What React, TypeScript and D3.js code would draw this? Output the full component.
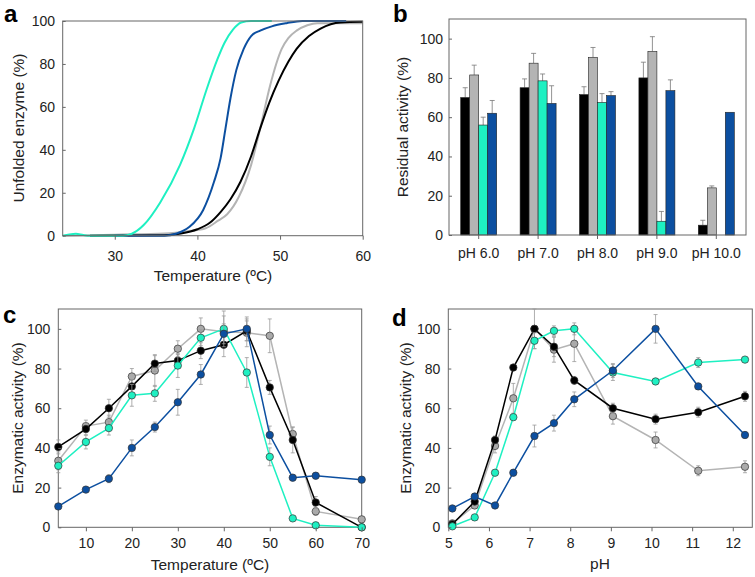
import React, { useEffect, useRef } from "react";
import * as d3 from "d3";

const FONT = "'Liberation Sans', Arial, sans-serif";
const C_BLACK = "#000000";
const C_GREY = "#b4b4b4";
const C_CYAN = "#1ef0c2";
const C_BLUE = "#0c4fa0";

// panel a - melting curves (temperature, % unfolded)
const meltGrey: [number, number][] = [[24, 0], [30, 0.5], [36, 1], [39, 2.2], [41, 3.5], [42.5, 7], [43.6, 10], [45, 18], [46.5, 33], [47.6, 50], [48.8, 70], [50.2, 87], [51, 92], [52, 95.5], [53.3, 98], [54.5, 99], [60, 99]];
const meltBlack: [number, number][] = [[27, 0], [36, 0.2], [38, 1], [40, 3], [41.5, 6], [42.8, 11], [44, 17], [45.2, 25], [46.5, 37], [47.6, 50], [48.7, 62], [49.8, 72], [51, 81], [52, 87], [53.5, 93], [54.9, 96.5], [57.3, 99.3], [60, 99.6]];
const meltCyan: [number, number][] = [[23.7, 0], [24.5, 0.6], [25.3, 0.9], [26.2, 0.3], [27, 0], [31, 0], [32, 0.8], [33.5, 5], [35.5, 15.5], [37.9, 33], [39.6, 50], [41.1, 68], [42.4, 82], [43.3, 90], [44.3, 96], [45.3, 99.3], [46.5, 100], [49, 100]];
const meltBlue: [number, number][] = [[30, 0], [36, 0], [37.5, 1], [39, 4], [40.7, 12], [42, 25], [42.8, 36], [43.4, 50], [44, 64], [44.7, 77], [45.6, 87], [46.5, 93], [47.6, 95.5], [49, 97.5], [50.8, 99], [52.7, 100], [58, 100]];

// panel b - residual activity after incubation
const phCats = ["pH 6.0", "pH 7.0", "pH 8.0", "pH 9.0", "pH 10.0"];
const resBlack = [70, 75, 71.5, 80, 5];
const resGrey = [81.5, 87.5, 90.5, 93.5, 24];
const resCyan = [56, 78.5, 67.5, 7, 0];
const resBlue = [62, 67, 71, 73.5, 62.5];
const resErrBlack = [5, 4.5, 4, 8, 2.5];
const resErrGrey = [5, 5, 5, 7.5, 1];
const resErrCyan = [4, 3.5, 4.5, 5, 0];
const resErrBlue = [6.5, 9, 2, 5.5, 0];

// panel c - activity vs temperature
const tempX = [4, 10, 15, 20, 25, 30, 35, 40, 45, 50, 55, 60, 70];
const tBlack = [40.5, 49.5, 60, 71, 82.5, 84, 89, 92, 99, 70.5, 44, 12.5, 0];
const tGrey = [33.5, 51, 53, 76, 79, 90, 100, 98.5, 98, 96.5, 47, 8, 4];
const tCyan = [31, 43, 50, 66.5, 67.5, 81.5, 95.5, 100, 78, 35.5, 4.5, 1, 0];
const tBlue = [10.5, 19, 24.5, 40, 50.5, 63, 77, 97.5, 100, 46.5, 25, 26, 24];
const tErrBlack = [3.5, 3, 4.5, 3.5, 4, 3, 4, 6, 5, 3.5, 6.5, 3, 0.5];
const tErrGrey = [4.5, 3, 3.5, 4, 8, 4, 5.5, 8, 7, 8.5, 3.5, 2, 1.5];
const tErrCyan = [3.5, 3.5, 3.5, 5.5, 4, 6, 4, 9, 7.5, 4.5, 1, 1, 0.5];
const tErrBlue = [1, 1.5, 2, 4, 2.5, 6.5, 5, 5, 6, 4.5, 1.5, 1.5, 1.5];

// panel d - activity vs pH
const phX = [5.1, 5.65, 6.15, 6.6, 7.12, 7.6, 8.1, 9.05, 10.1, 11.15, 12.3];
const pBlack = [1.5, 13, 44, 80.5, 100, 91, 74, 60, 54.5, 58, 66];
const pGrey = [2, 11, 41, 65, 100, 89.5, 92.5, 56, 44, 28.5, 30.5];
const pCyan = [0.5, 5, 27.5, 55.5, 94, 99, 100, 78, 73.5, 83, 84.5];
const pBlue = [9.5, 15.5, 11, 27.5, 46, 52.5, 64.5, 79, 100, 71, 46.5];
const pErrBlack = [1, 2, 2, 1, 1, 5, 2, 2.5, 2.5, 2.5, 2.5];
const pErrGrey = [1, 1.5, 3.5, 7.5, 10, 6.3, 9, 4, 4, 2.5, 3];
const pErrCyan = [0.5, 1, 1, 1.5, 4, 2.5, 3, 4, 1.5, 2.5, 1];
const pErrBlue = [1, 1.5, 1, 1.5, 5.5, 4, 3.7, 3.5, 7.2, 1.5, 1.5];

const yTicks = [0, 20, 40, 60, 80, 100];

function frame(g: any, x0: number, y0: number, x1: number, y1: number) {
  g.append("rect")
    .attr("x", x0).attr("y", y0)
    .attr("width", x1 - x0).attr("height", y1 - y0)
    .attr("fill", "none").attr("stroke", "#666").attr("stroke-width", 1);
}

function styleAxis(a: any) {
  a.select(".domain").remove();
  a.selectAll("text").attr("font-family", FONT).attr("font-size", 14).attr("fill", "#222");
  a.selectAll("line").attr("stroke", "#666");
}

function leftAxis(g: any, y: any, x0: number, pad: number) {
  const a = g.append("g").attr("transform", `translate(${x0},0)`)
    .call(d3.axisLeft(y).tickValues(yTicks).tickSizeInner(-3).tickSizeOuter(0).tickPadding(pad));
  styleAxis(a);
}

function bottomAxis(g: any, x: any, y0: number, ticks: any[] | null, pad: number) {
  let ax = d3.axisBottom(x).tickSizeInner(4).tickSizeOuter(0).tickPadding(pad);
  if (ticks) ax = ax.tickValues(ticks);
  const a = g.append("g").attr("transform", `translate(0,${y0})`).call(ax);
  styleAxis(a);
}

function label(g: any, txt: string, x: number, y: number, rotate = false) {
  g.append("text")
    .attr("transform", rotate ? `translate(${x},${y}) rotate(-90)` : `translate(${x},${y})`)
    .attr("text-anchor", "middle")
    .attr("font-family", FONT).attr("font-size", 15.5).attr("fill", "#222")
    .text(txt);
}

function letter(g: any, txt: string, x: number, y: number) {
  g.append("text").attr("x", x).attr("y", y)
    .attr("font-family", FONT).attr("font-size", 24).attr("font-weight", "bold")
    .text(txt);
}

function series(g: any, x: any, y: any, xs: number[], vals: number[], errs: number[], color: string, lineColor: string) {
  const pts = xs.map((d, i) => [d, vals[i], errs[i]]);
  const eb = g.append("g").attr("stroke", "#9a9a9a").attr("stroke-width", 0.8);
  pts.forEach(([px, v, e]) => {
    if (e <= 0.6) return;
    const cx = x(px);
    eb.append("line").attr("x1", cx).attr("x2", cx).attr("y1", y(v - e)).attr("y2", y(v + e));
    eb.append("line").attr("x1", cx - 2).attr("x2", cx + 2).attr("y1", y(v - e)).attr("y2", y(v - e));
    eb.append("line").attr("x1", cx - 2).attr("x2", cx + 2).attr("y1", y(v + e)).attr("y2", y(v + e));
  });
  const line = d3.line<number[]>().x(d => x(d[0])).y(d => y(d[1]));
  g.append("path").attr("d", line(pts)).attr("fill", "none")
    .attr("stroke", lineColor).attr("stroke-width", 1.5);
  g.selectAll(null).data(pts).enter().append("circle")
    .attr("cx", (d: number[]) => x(d[0])).attr("cy", (d: number[]) => y(d[1]))
    .attr("r", 3.7).attr("fill", color)
    .attr("stroke", "#333").attr("stroke-width", 0.7);
}

export default function App() {
  const ref = useRef<SVGSVGElement>(null);

  useEffect(() => {
    const svg = d3.select(ref.current);
    svg.selectAll("*").remove();

    // ---- panel a
    const ga = svg.append("g");
    const xa = d3.scaleLinear().domain([23.7, 60]).range([62.7, 362.7]);
    const ya = d3.scaleLinear().domain([0, 100]).range([235.7, 21]);
    const curve = d3.line<[number, number]>().x(d => xa(d[0])).y(d => ya(d[1])).curve(d3.curveMonotoneX);
    [[meltGrey, C_GREY], [meltBlack, C_BLACK], [meltBlue, C_BLUE], [meltCyan, C_CYAN]].forEach(([data, col]: any) => {
      ga.append("path").attr("d", curve(data)).attr("fill", "none")
        .attr("stroke", col).attr("stroke-width", 2);
    });
    frame(ga, 62.7, 21, 362.7, 235.7);
    leftAxis(ga, ya, 62.7, 7.7);
    bottomAxis(ga, xa, 235.7, [30, 40, 50, 60], 11);
    label(ga, "Unfolded enzyme (%)", 24, 128, true);
    label(ga, "Temperature (ºC)", 213, 281);
    letter(ga, "a", 4, 22);

    // ---- panel b
    const gb = svg.append("g");
    const xb = d3.scaleBand().domain(phCats).range([449, 746]).paddingInner(0.394).paddingOuter(0.197);
    const yb = d3.scaleLinear().domain([0, 110]).range([235, 19]);
    const sub = d3.scaleBand().domain(["k", "g", "c", "b"]).range([0, xb.bandwidth()]);
    const bars = [
      { key: "k", vals: resBlack, errs: resErrBlack, col: C_BLACK },
      { key: "g", vals: resGrey, errs: resErrGrey, col: C_GREY },
      { key: "c", vals: resCyan, errs: resErrCyan, col: C_CYAN },
      { key: "b", vals: resBlue, errs: resErrBlue, col: C_BLUE },
    ];
    bars.forEach(s => {
      phCats.forEach((cat, i) => {
        const v = s.vals[i];
        if (v <= 0) return;
        const bx = (xb(cat) as number) + (sub(s.key) as number);
        const bw = sub.bandwidth();
        const e = s.errs[i];
        if (e > 0) {
          const cx = bx + bw / 2;
          gb.append("line").attr("x1", cx).attr("x2", cx).attr("y1", yb(v)).attr("y2", yb(v + e))
            .attr("stroke", "#777").attr("stroke-width", 0.8);
          gb.append("line").attr("x1", cx - 2.5).attr("x2", cx + 2.5).attr("y1", yb(v + e)).attr("y2", yb(v + e))
            .attr("stroke", "#777").attr("stroke-width", 0.8);
        }
        gb.append("rect").attr("x", bx).attr("y", yb(v))
          .attr("width", bw).attr("height", yb(0) - yb(v))
          .attr("fill", s.col).attr("stroke", "#222").attr("stroke-width", 0.6);
      });
    });
    frame(gb, 449, 19, 746, 235);
    leftAxis(gb, yb, 449, 6);
    bottomAxis(gb, xb, 235, null, 9);
    label(gb, "Residual activity (%)", 408, 127, true);
    letter(gb, "b", 393, 22);

    // ---- panel c
    const gc = svg.append("g");
    const xc = d3.scaleLinear().domain([4, 70]).range([58.3, 361.7]);
    const yc = d3.scaleLinear().domain([0, 110]).range([527.3, 309]);
    frame(gc, 58.3, 309, 361.7, 527.3);
    series(gc, xc, yc, tempX, tGrey, tErrGrey, "#aaaaaa", C_GREY);
    series(gc, xc, yc, tempX, tBlack, tErrBlack, C_BLACK, C_BLACK);
    series(gc, xc, yc, tempX, tCyan, tErrCyan, C_CYAN, C_CYAN);
    series(gc, xc, yc, tempX, tBlue, tErrBlue, C_BLUE, C_BLUE);
    leftAxis(gc, yc, 58.3, 8);
    bottomAxis(gc, xc, 527.3, [10, 20, 30, 40, 50, 60, 70], 7);
    label(gc, "Enzymatic activity (%)", 22.5, 418, true);
    label(gc, "Temperature (ºC)", 210, 570);
    letter(gc, "c", 3, 323);

    // ---- panel d
    const gd = svg.append("g");
    const xd = d3.scaleLinear().domain([5, 12.48]).range([448.3, 752.3]);
    const yd = d3.scaleLinear().domain([0, 110]).range([527.3, 309]);
    frame(gd, 448.3, 309, 752.3, 527.3);
    series(gd, xd, yd, phX, pGrey, pErrGrey, "#aaaaaa", C_GREY);
    series(gd, xd, yd, phX, pBlack, pErrBlack, C_BLACK, C_BLACK);
    series(gd, xd, yd, phX, pCyan, pErrCyan, C_CYAN, C_CYAN);
    series(gd, xd, yd, phX, pBlue, pErrBlue, C_BLUE, C_BLUE);
    leftAxis(gd, yd, 448.3, 8);
    bottomAxis(gd, xd, 527.3, [5, 6, 7, 8, 9, 10, 11, 12], 7);
    label(gd, "Enzymatic activity (%)", 411, 418, true);
    label(gd, "pH", 600, 569);
    letter(gd, "d", 392, 326);
  }, []);

  return (
    <svg ref={ref} width={755} height={577}
      style={{ position: "absolute", left: 0, top: 0, background: "#fff" }} />
  );
}
